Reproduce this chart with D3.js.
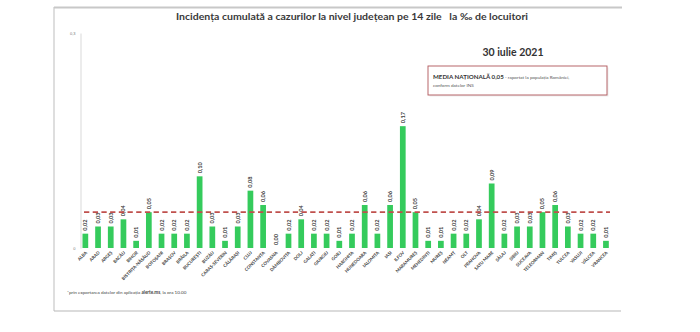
<!DOCTYPE html>
<html><head><meta charset="utf-8">
<script src="https://cdn.jsdelivr.net/npm/d3@7"></script>
<style>html,body{margin:0;padding:0;background:#fff;}svg{display:block;font-family:Lato,"Open Sans",sans-serif;}</style>
</head><body>
<svg id="c" width="700" height="332"></svg>
<script>
const counties = ["ALBA","ARAD","ARGEȘ","BACĂU","BIHOR","BISTRIȚA-NĂSĂUD","BOTOȘANI","BRAȘOV","BRĂILA","BUCUREȘTI","BUZĂU","CARAȘ-SEVERIN","CĂLĂRAȘI","CLUJ","CONSTANȚA","COVASNA","DÂMBOVIȚA","DOLJ","GALAȚI","GIURGIU","GORJ","HARGHITA","HUNEDOARA","IALOMIȚA","IAȘI","ILFOV","MARAMUREȘ","MEHEDINȚI","MUREȘ","NEAMȚ","OLT","PRAHOVA","SATU MARE","SĂLAJ","SIBIU","SUCEAVA","TELEORMAN","TIMIȘ","TULCEA","VASLUI","VÂLCEA","VRANCEA"];
const values = [0.02,0.03,0.03,0.04,0.01,0.05,0.02,0.02,0.02,0.10,0.03,0.01,0.03,0.08,0.06,0.00,0.02,0.04,0.02,0.02,0.01,0.02,0.06,0.02,0.06,0.17,0.05,0.01,0.01,0.02,0.02,0.04,0.09,0.02,0.03,0.03,0.05,0.06,0.03,0.02,0.02,0.01];
const nationalMean = 0.05;
const yTicks = [0, 0.3];
const titleText = "Incidența cumulată a cazurilor la nivel județean pe 14 zile   la ‰ de locuitori";
const dateText = "30 iulie 2021";
const fmt = v => d3.format(".2f")(v).replace(".", ",");
const yFmt = v => v === 0 ? "0" : String(v).replace(".", ",");

const svg = d3.select("#c");
const x = d3.scaleBand().domain(counties).range([79, 612.3]).paddingInner(0.55).paddingOuter(0.275);
const y = d3.scaleLinear().domain([0, 0.3]).range([248, 33]);

// frame lines
svg.append("line").attr("x1",54).attr("x2",622).attr("y1",7.5).attr("y2",7.5).attr("stroke","#c8c8c8").attr("stroke-width",2);
svg.append("line").attr("x1",54).attr("x2",54).attr("y1",7).attr("y2",311).attr("stroke","#c8c8c8").attr("stroke-width",1.2);
svg.append("line").attr("x1",54).attr("x2",621).attr("y1",311).attr("y2",311).attr("stroke","#b8b8b8").attr("stroke-width",1.2);

// title
svg.append("text").attr("x",352).attr("y",20).attr("text-anchor","middle")
  .attr("font-size",9.6).attr("font-weight","bold").attr("fill","#3a3a3a")
  .attr("textLength",352).attr("lengthAdjust","spacingAndGlyphs")
  .style("white-space","pre").text(titleText);

// y axis
const yAxis = d3.axisLeft(y).tickValues(yTicks).tickSize(0).tickFormat(yFmt);
const ga = svg.append("g").attr("transform","translate(80.5,0)").call(yAxis);
ga.select(".domain").attr("stroke","#d9d9d9");
ga.selectAll("text").attr("font-size",4).attr("fill","#777").attr("dx",-2);

// bars
svg.append("g").selectAll("rect").data(values).join("rect")
  .attr("x",(d,i)=>x(counties[i])).attr("width",x.bandwidth())
  .attr("y",d=>y(d)).attr("height",d=>y(0)-y(d)).attr("fill","#35cb5c");

// value labels
svg.append("g").selectAll("text").data(values).join("text")
  .attr("transform",(d,i)=>`translate(${x(counties[i])+x.bandwidth()/2+2},${y(d)-3}) rotate(-90)`)
  .attr("font-size",5.6).attr("font-weight","bold").attr("fill","#404040")
  .text(d=>fmt(d));

// national mean dashed line
svg.append("line").attr("x1",84).attr("x2",610).attr("y1",y(nationalMean)).attr("y2",y(nationalMean))
  .attr("stroke","#c0504d").attr("stroke-width",1.6).attr("stroke-dasharray","5.3,3.4");

// x labels
svg.append("g").selectAll("text").data(counties).join("text")
  .attr("transform",d=>`translate(${x(d)+x.bandwidth()/2+2},253) rotate(-45)`)
  .attr("text-anchor","end").attr("font-size",4.4).attr("font-weight","bold").attr("fill","#404040")
  .text(d=>d);

// date
svg.append("text").attr("x",513).attr("y",56).attr("text-anchor","middle")
  .attr("font-size",10.5).attr("font-weight","bold").attr("fill","#333").text(dateText);

// box
svg.append("rect").attr("x",429.5).attr("y",67.5).attr("width",179).attr("height",29).attr("fill","#eee");
svg.append("rect").attr("x",428).attr("y",66).attr("width",179).attr("height",29).attr("fill","#fff").attr("stroke","#b0565a").attr("stroke-width",0.9);
const t1 = svg.append("text").attr("x",433).attr("y",79).attr("fill","#333");
t1.append("tspan").attr("font-size",6.2).attr("font-weight","bold").text("MEDIA NAȚIONALĂ  " + fmt(nationalMean));
t1.append("tspan").attr("font-size",4.6).attr("fill","#555").text("  -  raportat la populația României,");
svg.append("text").attr("x",433).attr("y",87).attr("font-size",4.6).attr("fill","#555").text("conform datelor INS");

// footnote
const fn = svg.append("text").attr("x",67).attr("y",294).attr("font-size",4.6).attr("fill","#444");
fn.append("tspan").text("*prin exportarea datelor din aplicația ");
fn.append("tspan").attr("font-weight","bold").text("alerte.ms");
fn.append("tspan").text(", la ora 10.00");
</script>
</body></html>
